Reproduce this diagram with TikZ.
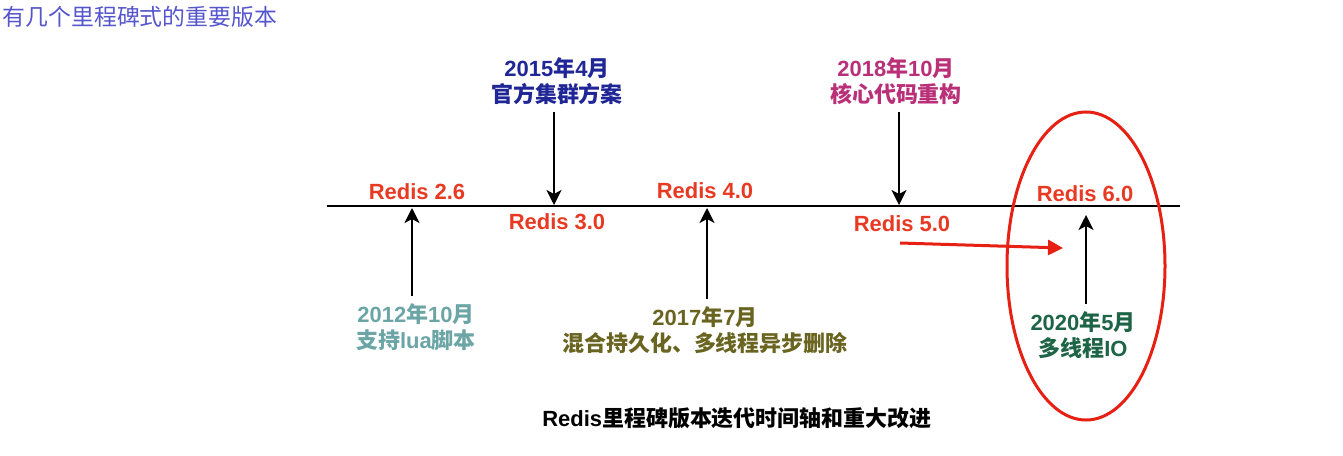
\documentclass[tikz,border=0pt]{standalone}
\usepackage{fontspec}
\setmainfont{Liberation Sans}
\newfontfamily\cjk{Noto Sans CJK SC}
\usetikzlibrary{arrows.meta}

\definecolor{redisred}{RGB}{232,58,35}
\definecolor{markred}{RGB}{230,32,18}
\definecolor{titleblue}{RGB}{85,85,205}
\definecolor{noteteal}{RGB}{108,165,165}
\definecolor{noteblue}{RGB}{32,38,150}
\definecolor{noteolive}{RGB}{105,100,32}
\definecolor{notepink}{RGB}{185,48,120}
\definecolor{notegreen}{RGB}{30,100,70}

\begin{document}
\begin{tikzpicture}[
    x=0.4mm, y=-0.4mm,
    font=\fontsize{25}{29}\selectfont\bfseries,
    version/.style={text=redisred, inner sep=0pt},
    note/.style={align=center, inner sep=2pt},
    pin/.style={-{Stealth[length=6mm, width=6mm, inset=1.6mm]}, line width=0.85mm, shorten <=2.4mm},
    highlight/.style={draw=markred, line width=1.2mm}
  ]
    \fill[white] (0,0) rectangle (1343,456);
    \useasboundingbox (0,0) rectangle (1343,456);

    \node[font=\cjk\fontsize{26}{26}\selectfont, text=titleblue] (title) at (140,17) {有几个里程碑式的重要版本};

    % timeline
    \coordinate (tl) at (327,206);
    \coordinate (tr) at (1180,206);
    \draw[line width=0.75mm] (tl) -- (tr);

    \node[version] (v26) at (417,192) {Redis 2.6};
    \node[version] (v30) at (557,222) {Redis 3.0};
    \node[version] (v40) at (705,191) {Redis 4.0};
    \node[version] (v50) at (902,224) {Redis 5.0};
    \node[version] (v60) at (1085,194) {Redis 6.0};

    \coordinate (t26) at (412,208);
    \coordinate (t30) at (554,205);
    \coordinate (t40) at (707,208);
    \coordinate (t50) at (899,205);
    \coordinate (t60) at (1086,215);

    \node[note, text=noteteal] (n2012) at (416,327) {2012{\cjk 年}10{\cjk 月}\\{\cjk 支持}lua{\cjk 脚本}};
    \node[note, text=noteblue] (n2015) at (557,81) {2015{\cjk 年}4{\cjk 月}\\{\cjk 官方集群方案}};
    \node[note, text=noteolive] (n2017) at (705,330) {2017{\cjk 年}7{\cjk 月}\\{\cjk 混合持久化、多线程异步删除}};
    \node[note, text=notepink] (n2018) at (896,81) {2018{\cjk 年}10{\cjk 月}\\{\cjk 核心代码重构}};
    \node[note, text=notegreen] (n2020) at (1083,335) {2020{\cjk 年}5{\cjk 月}\\{\cjk 多线程}IO};

    \draw[pin] (n2012.north -| t26) -- (t26);
    \draw[pin] (n2015.south -| t30) -- (t30);
    \draw[pin] (n2017.north -| t40) -- (t40);
    \draw[pin] (n2018.south -| t50) -- (t50);
    \draw[pin] (n2020.north -| t60) -- (t60);

    % highlight of 6.0
    \coordinate (hs) at (900,243);
    \coordinate (he) at (1063,248);
    \draw[highlight, -{Triangle[length=6mm, width=6mm]}] (hs) -- (he);
    \draw[highlight] (1086,266) ellipse [x radius=79, y radius=154];

    \node (caption) at (737,418) {Redis{\cjk 里程碑版本迭代时间轴和重大改进}};
\end{tikzpicture}
\end{document}
